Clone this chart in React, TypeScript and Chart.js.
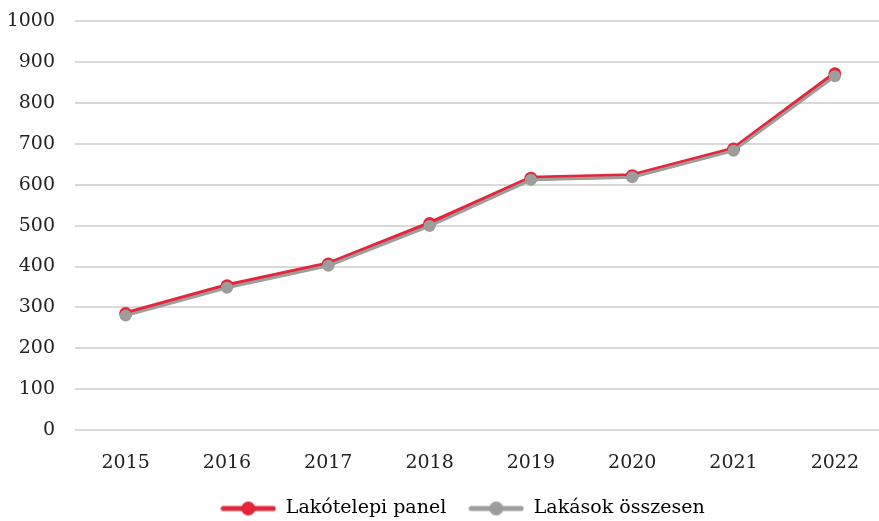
import React, { useEffect, useRef } from "react";
import { Chart, registerables } from "chart.js";

Chart.register(...registerables);

const years = ["2015", "2016", "2017", "2018", "2019", "2020", "2021", "2022"];
const panelValues = [285, 353, 406, 505, 616, 622, 687, 871];
const totalValues = [280, 348, 402, 499, 612, 618, 683, 865];
const yTicks = [0, 100, 200, 300, 400, 500, 600, 700, 800, 900, 1000];
const seriesNames = ["Lakótelepi panel", "Lakások összesen"];

const RED = "#e3263a";
const GRAY = "#9d9d9b";
const FONT = "'DejaVu Serif', serif";
const FS = 19;
const CW = 892;

function makeIcon(color: string, lw: number, r: number) {
  const c = document.createElement("canvas");
  c.width = 56;
  c.height = 16;
  const ctx = c.getContext("2d")!;
  ctx.strokeStyle = color;
  ctx.lineWidth = lw;
  ctx.lineCap = "round";
  ctx.beginPath();
  ctx.moveTo(3, 8);
  ctx.lineTo(53, 8);
  ctx.stroke();
  ctx.fillStyle = color;
  ctx.beginPath();
  ctx.arc(28, 8, r, 0, Math.PI * 2);
  ctx.fill();
  return c;
}

const legendShift = {
  id: "legendShift",
  afterLayout(chart: any) {
    if (chart.legend) {
      chart.legend.left += 27;
    }
  },
};

export default function App() {
  const ref = useRef<HTMLCanvasElement>(null);
  useEffect(() => {
    const icons = [makeIcon(RED, 5, 7), makeIcon(GRAY, 5, 7)];
    const chart = new Chart(ref.current!, {
      type: "line",
      plugins: [legendShift],
      data: {
        labels: years,
        datasets: [
          {
            label: seriesNames[0],
            data: panelValues,
            borderColor: RED,
            backgroundColor: RED,
            borderWidth: 5,
            pointRadius: 6.5,
            pointBackgroundColor: RED,
            pointBorderColor: RED,
            pointBorderWidth: 0,
            order: 1,
          },
          {
            label: seriesNames[1],
            data: totalValues,
            borderColor: GRAY,
            backgroundColor: GRAY,
            borderWidth: 3,
            pointRadius: 6,
            pointBackgroundColor: GRAY,
            pointBorderColor: GRAY,
            pointBorderWidth: 0,
            order: 0,
          },
        ],
      },
      options: {
        animation: false,
        responsive: false,
        maintainAspectRatio: false,
        layout: { padding: { top: 21, right: -6, left: 0, bottom: -7 } },
        plugins: {
          tooltip: { enabled: false },
          legend: {
            position: "bottom",
            labels: {
              usePointStyle: true,
              pointStyleWidth: 56,
              padding: 22,
              color: "#222",
              font: { family: FONT, size: FS },
              generateLabels: () =>
                seriesNames.map((n, i) => ({
                  text: n,
                  datasetIndex: i,
                  pointStyle: icons[i],
                  fillStyle: i === 0 ? RED : GRAY,
                  strokeStyle: i === 0 ? RED : GRAY,
                  lineWidth: 0,
                  hidden: false,
                })),
            },
          },
        },
        scales: {
          x: {
            type: "category",
            offset: true,
            afterFit: (scale: any) => {
              scale.paddingLeft = 0;
              scale.paddingRight = 0;
              scale.height = scale.height - 18;
            },
            grid: { display: false, drawTicks: false },
            border: { display: false },
            ticks: {
              color: "#222",
              font: { family: FONT, size: FS },
              padding: 21,
              maxRotation: 0,
              autoSkip: false,
            },
          },
          y: {
            min: 0,
            max: 1000,
            afterBuildTicks: (scale: any) => {
              scale.ticks = yTicks.map((v) => ({ value: v }));
            },
            afterFit: (scale: any) => {
              scale.paddingTop = 0;
              scale.paddingBottom = 0;
              scale.width = 75;
            },
            grid: { color: "#d9d9d9", lineWidth: 2, drawTicks: false },
            border: { display: false },
            ticks: {
              color: "#222",
              font: { family: FONT, size: FS },
              padding: 20,
              callback: (v: any) => String(v),
            },
          },
        },
      },
    });
    return () => chart.destroy();
  }, []);
  return (
    <div
      style={{
        position: "fixed",
        left: 0,
        top: 0,
        width: 879,
        height: 521,
        overflow: "hidden",
        background: "#fff",
      }}
    >
      <canvas ref={ref} width={CW} height={521} style={{ width: CW, height: 521, display: "block" }} />
    </div>
  );
}
